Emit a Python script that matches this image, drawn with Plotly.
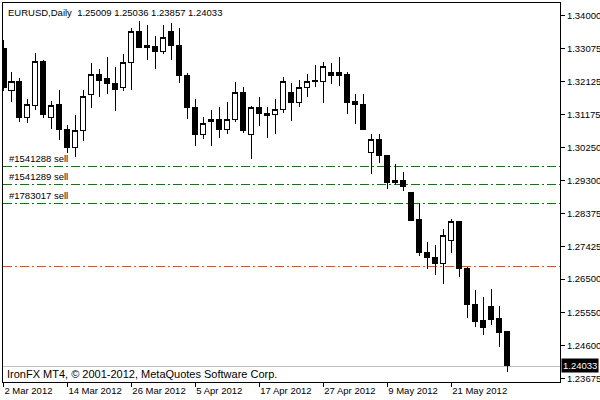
import pandas as pd
import plotly.graph_objects as go

# ---- data ----
dates = [d.strftime("%Y-%m-%d") for d in pd.bdate_range("2012-03-02", "2012-05-30")]

open_ = [1.33080, 1.31885, 1.32141, 1.31088, 1.31438, 1.32690, 1.31088, 1.31458,
         1.30774, 1.30262, 1.30726, 1.31771, 1.32340, 1.32226, 1.32084, 1.31942,
         1.32682, 1.33564, 1.33146, 1.33137, 1.32975, 1.33564, 1.33166, 1.32312,
         1.31401, 1.30632, 1.31031, 1.31031, 1.30774, 1.31059, 1.31828, 1.30632,
         1.31401, 1.31230, 1.31201, 1.31344, 1.31808, 1.31543, 1.31942, 1.32169,
         1.32121, 1.32377, 1.32377, 1.32340, 1.31552, 1.31486, 1.30111, 1.30481,
         1.30034, 1.29246, 1.29322, 1.28972, 1.28184, 1.27264, 1.27122, 1.26951,
         1.27614, 1.28127, 1.26808, 1.25784, 1.25308, 1.25707, 1.25385, 1.25009]
high = [1.33308, 1.32406, 1.32226, 1.31628, 1.32938, 1.32739, 1.31580, 1.31885,
        1.30888, 1.31173, 1.31885, 1.32653, 1.32483, 1.32824, 1.32540, 1.32910,
        1.33650, 1.33849, 1.33735, 1.33422, 1.33735, 1.33792, 1.33650, 1.32369,
        1.31628, 1.31116, 1.31315, 1.31409, 1.31543, 1.32112, 1.31979, 1.31438,
        1.31694, 1.31401, 1.31628, 1.32263, 1.32084, 1.32169, 1.32340, 1.32596,
        1.32682, 1.32653, 1.32833, 1.32397, 1.31771, 1.31771, 1.30632, 1.30632,
        1.30040, 1.29769, 1.29542, 1.28989, 1.28676, 1.27549, 1.27472, 1.27919,
        1.28204, 1.28155, 1.26837, 1.26191, 1.25983, 1.26219, 1.25735, 1.25036]
low = [1.31856, 1.31552, 1.30982, 1.30945, 1.31315, 1.31088, 1.30774, 1.30461,
       1.30091, 1.29986, 1.30433, 1.31381, 1.31694, 1.31771, 1.31295, 1.31865,
       1.31885, 1.33080, 1.32739, 1.32483, 1.32910, 1.32739, 1.32093, 1.31059,
       1.30299, 1.30490, 1.30299, 1.30518, 1.30632, 1.30982, 1.30669, 1.29920,
       1.30868, 1.30527, 1.30632, 1.31238, 1.31011, 1.31409, 1.31694, 1.31962,
       1.31523, 1.32047, 1.32007, 1.31193, 1.30908, 1.30746, 1.29485, 1.29798,
       1.29075, 1.29180, 1.29009, 1.28150, 1.27159, 1.26780, 1.26618, 1.26361,
       1.27236, 1.26547, 1.25402, 1.25129, 1.24910, 1.25194, 1.24576, 1.23857]
close = [1.31970, 1.32141, 1.31096, 1.31458, 1.32710, 1.31201, 1.31438, 1.30774,
         1.30262, 1.30746, 1.31714, 1.32340, 1.32169, 1.32084, 1.31913, 1.32682,
         1.33564, 1.33109, 1.33089, 1.32975, 1.33394, 1.33166, 1.32292, 1.31381,
         1.30632, 1.30917, 1.30982, 1.30774, 1.31059, 1.31828, 1.30726, 1.31401,
         1.31230, 1.31173, 1.31344, 1.32141, 1.31543, 1.31942, 1.32121, 1.32121,
         1.32540, 1.32312, 1.32312, 1.31543, 1.31478, 1.30774, 1.30481, 1.30014,
         1.29251, 1.29322, 1.29132, 1.28164, 1.27253, 1.27110, 1.26951, 1.27748,
         1.28147, 1.26808, 1.25784, 1.25288, 1.25117, 1.25357, 1.24975, 1.24033]

tick_dates = ["2012-03-02", "2012-03-14", "2012-03-26", "2012-04-05",
              "2012-04-17", "2012-04-27", "2012-05-09", "2012-05-21"]
tick_text = ["2 Mar 2012", "14 Mar 2012", "26 Mar 2012", "5 Apr 2012",
             "17 Apr 2012", "27 Apr 2012", "9 May 2012", "21 May 2012"]

price_ticks = [1.34000, 1.33075, 1.32125, 1.31175, 1.30250, 1.29300,
               1.28375, 1.27425, 1.26500, 1.25550, 1.24600, 1.23675]

order_names = ["#1541288 sell", "#1541289 sell", "#1783017 sell"]
order_prices = [1.29721, 1.29209, 1.28668]
stop_price = 1.26883
bid_price = close[-1]

FONT = "Liberation Sans, Arial, sans-serif"

fig = go.Figure()
fig.add_trace(go.Candlestick(
    x=dates, open=open_, high=high, low=low, close=close,
    increasing=dict(fillcolor="white", line=dict(color="black", width=1)),
    decreasing=dict(fillcolor="black", line=dict(color="black", width=1)),
    whiskerwidth=0, showlegend=False, hoverinfo="skip",
))

shapes = []
for p in order_prices:
    shapes.append(dict(type="line", xref="paper", x0=0, x1=1, yref="y", y0=p, y1=p,
                       line=dict(color="#008000", width=1, dash="9px,3px,2px,3px"),
                       layer="below"))
shapes.append(dict(type="line", xref="paper", x0=0, x1=1, yref="y", y0=stop_price, y1=stop_price,
                   line=dict(color="#FF4500", width=1, dash="9px,3px,2px,3px"), layer="below"))
shapes.append(dict(type="line", xref="paper", x0=0, x1=1, yref="y", y0=bid_price, y1=bid_price,
                   line=dict(color="#C0C0C0", width=1), layer="below"))

annotations = []
annotations.append(dict(
    xref="paper", yref="paper", x=0, y=1, xanchor="left", yanchor="top",
    xshift=3, yshift=-2, showarrow=False,
    text=f"EURUSD,Daily\u00a0 {open_[-1]:.5f} {high[-1]:.5f} {low[-1]:.5f} {close[-1]:.5f}",
    font=dict(family=FONT, size=9.5, color="black")))
for name, p in zip(order_names, order_prices):
    annotations.append(dict(
        xref="paper", yref="y", x=0, y=p, xanchor="left", yanchor="bottom",
        xshift=4, yshift=0, showarrow=False, text=name,
        font=dict(family=FONT, size=9.5, color="black")))
annotations.append(dict(
    xref="paper", yref="paper", x=0, y=0, xanchor="left", yanchor="bottom",
    xshift=2, yshift=0, showarrow=False,
    text="IronFX MT4, \u00a9 2001-2012, MetaQuotes Software Corp.",
    font=dict(family=FONT, size=11, color="black")))
annotations.append(dict(
    xref="paper", yref="y", x=1, y=bid_price, xanchor="left", yanchor="middle",
    xshift=1, showarrow=False, text=f"{bid_price:.5f}", bgcolor="black",
    borderpad=1, font=dict(family=FONT, size=9.5, color="white")))

fig.update_layout(
    width=600, height=400,
    margin=dict(l=3, r=40, t=3, b=18, autoexpand=False),
    paper_bgcolor="white", plot_bgcolor="white",
    boxgap=0.35, boxgroupgap=0,
    shapes=shapes, annotations=annotations,
    font=dict(family=FONT, size=9.5, color="black"),
    xaxis=dict(
        type="category", categoryorder="array", categoryarray=dates,
        range=[-0.05, 69.6], rangeslider=dict(visible=False),
        tickmode="array", tickvals=tick_dates, ticktext=tick_text,
        ticks="outside", ticklen=4, tickcolor="black", ticklabelposition="outside right",
        showgrid=False, zeroline=False, showline=True, linecolor="black", linewidth=1,
        mirror=True, automargin=False, tickfont=dict(family=FONT, size=9.5, color="black"),
    ),
    yaxis=dict(
        side="right", range=[1.23571, 1.34362],
        tickmode="array", tickvals=price_ticks, ticktext=[f"{v:.5f}" for v in price_ticks],
        ticks="outside", ticklen=4, tickcolor="black",
        showgrid=False, zeroline=False, showline=True, linecolor="black", linewidth=1,
        mirror=True, automargin=False, tickfont=dict(family=FONT, size=9.5, color="black"),
    ),
)

# rendering-only tweaks: no page margin, snap 1px horizontal shape lines to pixel rows
post = (
    "document.body.style.margin='0';document.body.style.overflow='hidden';"
    "function __fix(){"
    "document.querySelectorAll('.boxlayer path').forEach(function(p){p.style.shapeRendering='crispEdges';});"
    "document.querySelectorAll('.shapelayer path').forEach(function(p){"
    "var d=p.getAttribute('d')||'';"
    "var m=d.match(/^M([-\\d.e]+),([-\\d.e]+)L([-\\d.e]+),([-\\d.e]+)$/);"
    "if(m && p.getAttribute('data-snapped')!=='1'){var y=Math.round(parseFloat(m[2]))+0.5;"
    "p.setAttribute('d','M'+m[1]+','+y+'L'+m[3]+','+y);p.setAttribute('data-snapped','1');}});}"
    "__fix();"
    "var __gd=document.getElementById('{plot_id}');"
    "if(__gd&&__gd.on){__gd.on('plotly_afterplot',__fix);}"
    "setTimeout(__fix,0);setTimeout(__fix,50);setTimeout(__fix,300);"
)
fig.write_html("out.html", config={"displayModeBar": False, "staticPlot": True},
               post_script=post)
